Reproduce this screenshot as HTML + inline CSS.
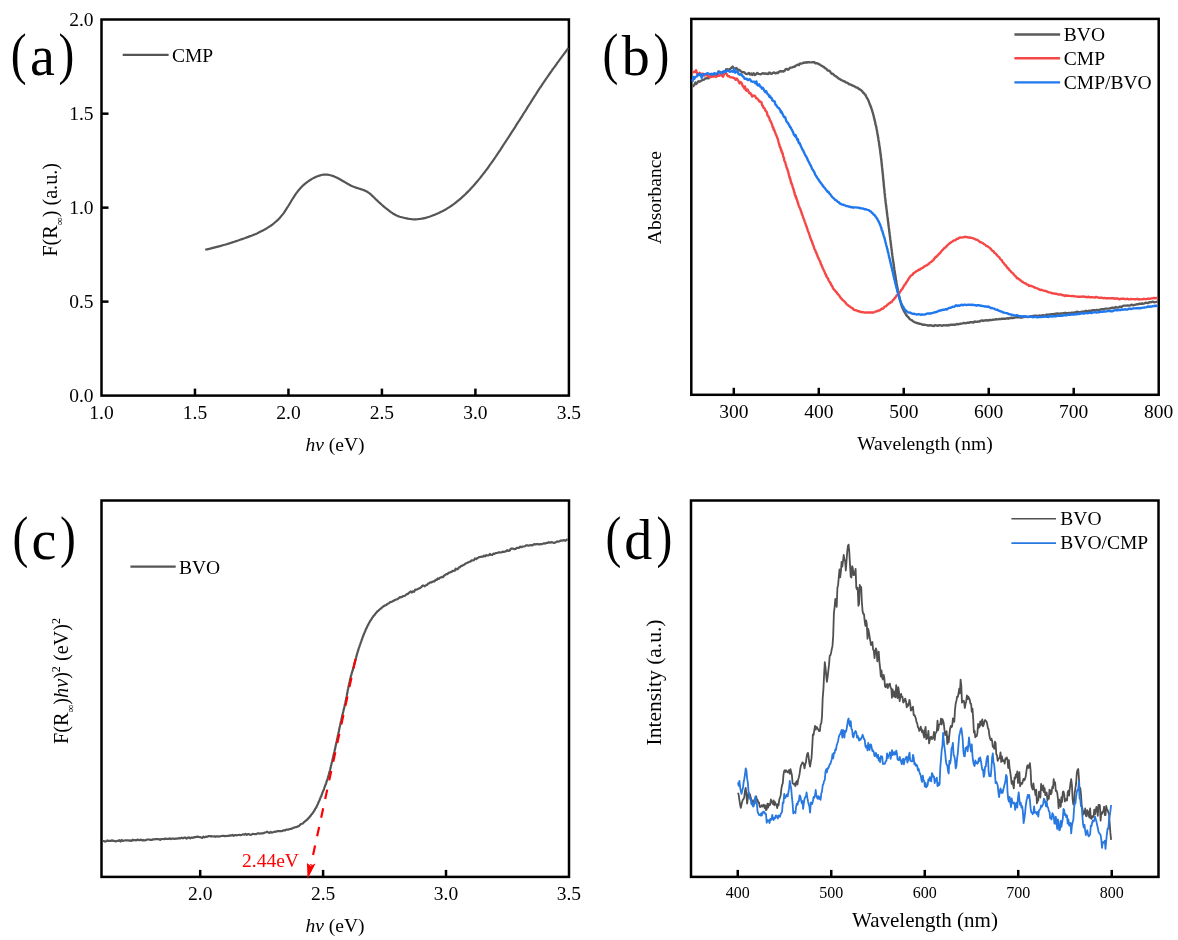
<!DOCTYPE html>
<html><head><meta charset="utf-8"><style>
html,body{margin:0;padding:0;background:#fff;}
svg{display:block;will-change:transform;}
svg text{font-family:"Liberation Serif",serif;}
</style></head><body>
<svg width="1178" height="940" viewBox="0 0 1178 940">
<rect width="1178" height="940" fill="#fff"/>
<rect x="101.5" y="19.5" width="467.40" height="376.10" fill="none" stroke="#000" stroke-width="2.5"/>
<line x1="194.97" y1="395.6" x2="194.97" y2="388.6" stroke="#000" stroke-width="2.5"/><line x1="288.45" y1="395.6" x2="288.45" y2="388.6" stroke="#000" stroke-width="2.5"/><line x1="381.92" y1="395.6" x2="381.92" y2="388.6" stroke="#000" stroke-width="2.5"/><line x1="475.40" y1="395.6" x2="475.40" y2="388.6" stroke="#000" stroke-width="2.5"/>
<line x1="101.5" y1="301.62" x2="108.5" y2="301.62" stroke="#000" stroke-width="2.5"/><line x1="101.5" y1="207.65" x2="108.5" y2="207.65" stroke="#000" stroke-width="2.5"/><line x1="101.5" y1="113.68" x2="108.5" y2="113.68" stroke="#000" stroke-width="2.5"/>
<text x="101.50" y="418.60" font-size="19.5" text-anchor="middle" fill="#000" >1.0</text>
<text x="194.97" y="418.60" font-size="19.5" text-anchor="middle" fill="#000" >1.5</text>
<text x="288.45" y="418.60" font-size="19.5" text-anchor="middle" fill="#000" >2.0</text>
<text x="381.92" y="418.60" font-size="19.5" text-anchor="middle" fill="#000" >2.5</text>
<text x="475.40" y="418.60" font-size="19.5" text-anchor="middle" fill="#000" >3.0</text>
<text x="568.88" y="418.60" font-size="19.5" text-anchor="middle" fill="#000" >3.5</text>
<text x="93.50" y="402.20" font-size="19.5" text-anchor="end" fill="#000" >0.0</text>
<text x="93.50" y="308.23" font-size="19.5" text-anchor="end" fill="#000" >0.5</text>
<text x="93.50" y="214.25" font-size="19.5" text-anchor="end" fill="#000" >1.0</text>
<text x="93.50" y="120.28" font-size="19.5" text-anchor="end" fill="#000" >1.5</text>
<text x="93.50" y="26.30" font-size="19.5" text-anchor="end" fill="#000" >2.0</text>
<path d="M205.2 249.8L207.2 249.3L209.1 248.9L211.1 248.4L213.0 247.9L215.0 247.4L216.9 246.9L218.9 246.4L220.8 245.9L222.8 245.3L224.7 244.8L226.7 244.2L228.6 243.6L230.5 243.0L232.4 242.4L234.3 241.8L236.2 241.1L238.1 240.5L240.1 239.8L242.0 239.1L243.9 238.5L245.8 237.8L247.7 237.1L249.5 236.4L251.4 235.7L253.3 234.9L255.2 234.2L257.0 233.4L258.8 232.5L260.6 231.6L262.4 230.7L264.2 229.8L266.0 228.8L267.7 227.7L269.4 226.6L271.1 225.5L272.7 224.3L274.3 223.0L275.9 221.7L277.3 220.4L278.8 219.0L280.1 217.5L281.4 215.9L282.7 214.4L283.9 212.8L285.0 211.1L286.1 209.4L287.2 207.7L288.3 206.0L289.4 204.2L290.4 202.5L291.4 200.8L292.5 199.0L293.6 197.3L294.7 195.6L295.8 193.9L297.0 192.3L298.2 190.7L299.5 189.2L300.8 187.7L302.2 186.3L303.7 184.9L305.2 183.6L306.8 182.4L308.5 181.2L310.2 180.0L312.0 178.9L313.8 177.9L315.6 177.0L317.5 176.2L319.5 175.6L321.4 175.0L323.4 174.7L325.4 174.6L327.4 174.7L329.4 175.0L331.3 175.5L333.3 176.1L335.2 176.9L337.1 177.7L338.9 178.7L340.7 179.7L342.4 180.7L344.2 181.7L345.9 182.8L347.6 183.8L349.4 184.7L351.2 185.7L353.0 186.5L354.9 187.2L356.8 187.9L358.7 188.5L360.7 189.1L362.6 189.7L364.5 190.4L366.3 191.3L368.0 192.3L369.6 193.4L371.1 194.7L372.6 196.1L374.1 197.5L375.5 199.0L377.0 200.4L378.5 201.8L380.0 203.1L381.5 204.5L383.0 205.8L384.5 207.1L386.1 208.4L387.7 209.6L389.3 210.8L390.9 212.1L392.5 213.2L394.3 214.3L396.0 215.3L397.9 216.1L399.8 216.7L401.7 217.2L403.7 217.7L405.6 218.2L407.6 218.6L409.6 219.0L411.6 219.2L413.6 219.3L415.6 219.3L417.7 219.2L419.7 219.0L421.7 218.7L423.6 218.3L425.6 217.9L427.5 217.3L429.4 216.7L431.4 216.0L433.2 215.3L435.1 214.6L437.0 213.8L438.8 213.0L440.6 212.1L442.4 211.2L444.2 210.3L446.0 209.3L447.7 208.2L449.4 207.1L451.1 206.0L452.7 204.9L454.4 203.7L456.0 202.4L457.5 201.2L459.1 199.9L460.6 198.6L462.1 197.2L463.6 195.9L465.1 194.5L466.5 193.1L468.0 191.6L469.4 190.2L470.7 188.7L472.1 187.2L473.5 185.7L474.8 184.2L476.1 182.7L477.4 181.2L478.7 179.6L480.0 178.1L481.2 176.5L482.5 174.9L483.7 173.3L485.0 171.7L486.2 170.1L487.4 168.5L488.6 166.8L489.7 165.2L490.9 163.6L492.1 161.9L493.2 160.3L494.4 158.6L495.5 157.0L496.6 155.3L497.8 153.6L498.9 151.9L500.0 150.3L501.1 148.6L502.2 146.9L503.3 145.2L504.4 143.5L505.5 141.8L506.6 140.2L507.7 138.5L508.8 136.8L509.9 135.1L511.0 133.4L512.1 131.7L513.2 130.0L514.3 128.3L515.4 126.6L516.4 124.9L517.5 123.2L518.6 121.5L519.7 119.8L520.8 118.1L521.9 116.4L522.9 114.7L524.0 113.0L525.1 111.3L526.2 109.6L527.2 107.9L528.3 106.2L529.4 104.5L530.5 102.8L531.5 101.1L532.6 99.3L533.7 97.6L534.8 95.9L535.9 94.3L536.9 92.6L538.0 90.9L539.1 89.2L540.2 87.5L541.4 85.8L542.5 84.1L543.6 82.5L544.7 80.8L545.9 79.1L547.0 77.5L548.2 75.8L549.3 74.2L550.5 72.5L551.7 70.9L552.8 69.2L554.0 67.6L555.2 66.0L556.4 64.3L557.5 62.7L558.7 61.1L559.9 59.4L561.1 57.8L562.3 56.2L563.5 54.6L564.7 53.0L565.9 51.3L567.1 49.7L568.3 48.1" fill="none" stroke="#555" stroke-width="2.2" stroke-linejoin="round"/>
<line x1="122.7" y1="54.9" x2="168.6" y2="54.9" stroke="#555" stroke-width="2.2"/>
<text x="172.00" y="61.70" font-size="19.5" text-anchor="start" fill="#000" >CMP</text>
<text transform="translate(10.7 72.9) scale(0.83 1)" font-size="57.3">(</text><text x="29.9" y="75.15" font-size="56">a</text><text transform="translate(58.5 72.9) scale(0.83 1)" font-size="57.3">)</text>
<text transform="translate(57.3 209.8) rotate(-90)" font-size="20.2" text-anchor="middle">F(R<tspan font-size="11" dy="6">&#8734;</tspan><tspan dy="-6">) (a.u.)</tspan></text>
<text x="335" y="450.5" font-size="19.5" text-anchor="middle"><tspan font-style="italic">h&#957;</tspan> (eV)</text>
<rect x="691.3" y="18.9" width="467.40" height="375.90" fill="none" stroke="#000" stroke-width="2.5"/>
<line x1="733.79" y1="394.8" x2="733.79" y2="387.8" stroke="#000" stroke-width="2.5"/><line x1="818.77" y1="394.8" x2="818.77" y2="387.8" stroke="#000" stroke-width="2.5"/><line x1="903.75" y1="394.8" x2="903.75" y2="387.8" stroke="#000" stroke-width="2.5"/><line x1="988.73" y1="394.8" x2="988.73" y2="387.8" stroke="#000" stroke-width="2.5"/><line x1="1073.71" y1="394.8" x2="1073.71" y2="387.8" stroke="#000" stroke-width="2.5"/>
<text x="733.79" y="418.40" font-size="19.5" text-anchor="middle" fill="#000" >300</text>
<text x="818.77" y="418.40" font-size="19.5" text-anchor="middle" fill="#000" >400</text>
<text x="903.75" y="418.40" font-size="19.5" text-anchor="middle" fill="#000" >500</text>
<text x="988.73" y="418.40" font-size="19.5" text-anchor="middle" fill="#000" >600</text>
<text x="1073.71" y="418.40" font-size="19.5" text-anchor="middle" fill="#000" >700</text>
<text x="1158.69" y="418.40" font-size="19.5" text-anchor="middle" fill="#000" >800</text>
<path d="M692.5 86.3L693.4 86.0L694.4 84.8L695.4 82.6L696.3 83.9L697.3 82.8L698.4 81.3L699.4 81.7L700.5 81.1L701.6 80.5L702.7 79.9L703.9 79.9L705.0 78.4L706.1 78.5L707.3 77.8L708.4 78.3L709.5 77.3L710.6 76.6L711.8 75.7L712.9 75.7L714.0 75.5L715.1 74.8L716.2 75.8L717.3 75.1L718.5 71.4L719.6 71.7L720.7 72.9L721.8 72.2L722.9 72.2L724.0 71.7L725.1 72.8L726.2 69.2L727.3 69.2L728.3 70.8L729.4 69.1L730.5 68.8L731.6 67.6L732.7 66.6L733.8 68.5L735.0 68.8L736.1 68.0L737.3 69.0L738.4 70.2L739.6 69.9L740.7 71.3L741.9 71.9L743.1 72.3L744.2 72.2L745.4 73.5L746.6 74.1L747.7 73.8L748.9 73.0L750.1 74.5L751.3 73.5L752.4 74.9L753.6 73.2L754.8 75.0L756.0 74.2L757.3 73.0L758.5 73.9L759.7 74.1L760.9 74.2L762.1 73.4L763.3 73.2L764.5 73.9L765.7 73.4L766.9 73.8L768.1 74.0L769.3 72.4L770.5 73.5L771.7 73.9L772.9 72.9L774.1 72.5L775.3 73.3L776.5 72.8L777.7 73.0L778.8 72.0L780.0 71.1L781.2 71.6L782.3 71.1L783.5 71.5L784.6 70.7L785.7 69.1L786.8 68.9L787.9 69.7L789.0 69.1L790.1 67.7L791.2 67.6L792.3 67.4L793.4 66.9L794.5 66.7L795.6 65.8L796.7 65.2L797.8 64.6L799.0 65.0L800.1 63.4L801.3 63.6L802.4 63.3L803.6 62.6L804.8 62.7L805.9 62.3L807.1 62.5L808.3 62.1L809.5 62.3L810.7 62.4L812.0 62.3L813.2 62.1L814.3 62.2L815.5 63.3L816.7 63.2L817.8 63.5L818.9 64.2L819.9 64.6L821.0 65.5L822.0 65.9L823.0 66.6L824.0 67.1L825.0 68.1L826.0 68.5L827.0 69.6L827.9 70.6L828.9 70.6L829.8 71.1L830.8 72.7L831.7 73.9L832.6 73.7L833.6 74.4L834.5 75.6L835.5 76.0L836.5 76.8L837.5 77.5L838.4 78.4L839.4 78.8L840.5 79.6L841.5 80.1L842.5 80.5L843.6 81.2L844.7 81.5L845.7 82.3L846.8 82.6L847.9 83.1L849.0 84.2L850.1 84.4L851.2 84.9L852.3 85.5L853.4 85.8L854.5 86.4L855.6 87.1L856.7 87.6L857.8 87.8L858.8 89.0L859.8 89.3L860.7 89.9L861.7 90.7L862.5 91.6L863.3 93.0L864.1 93.2L864.8 94.5L865.5 94.9L866.2 96.5L866.8 97.7L867.4 98.5L867.9 99.5L868.5 100.8L869.0 102.1L869.4 103.2L869.9 104.6L870.3 105.3L870.7 106.3L871.1 107.5L871.5 108.7L871.9 109.8L872.2 111.0L872.6 112.2L872.9 112.9L873.2 114.6L873.5 115.4L873.8 116.5L874.1 118.1L874.4 119.4L874.7 120.4L875.0 121.5L875.2 122.4L875.5 124.5L875.8 125.2L876.0 125.8L876.3 127.1L876.5 128.5L876.7 129.3L877.0 130.9L877.2 131.9L877.4 133.5L877.6 134.6L877.8 134.9L878.0 136.8L878.2 137.5L878.4 139.4L878.6 140.4L878.8 141.7L879.0 142.4L879.2 144.4L879.3 145.6L879.5 146.0L879.7 147.6L879.9 148.5L880.0 149.8L880.2 150.7L880.3 152.7L880.5 153.2L880.6 154.5L880.8 155.9L880.9 156.8L881.1 158.1L881.2 159.3L881.4 160.6L881.5 161.5L881.6 162.9L881.7 164.1L881.9 165.3L882.0 166.6L882.1 167.7L882.3 169.2L882.4 170.1L882.5 171.3L882.6 172.4L882.7 173.6L882.9 174.6L883.0 176.3L883.1 177.1L883.2 178.4L883.3 179.8L883.4 181.0L883.6 182.0L883.7 182.8L883.8 184.6L883.9 185.8L884.0 186.6L884.1 188.3L884.3 189.1L884.4 190.2L884.5 191.7L884.6 192.9L884.8 194.1L884.9 194.9L885.0 196.9L885.1 197.5L885.3 198.5L885.4 200.2L885.5 201.2L885.7 202.5L885.8 203.6L886.0 204.8L886.1 206.1L886.3 207.1L886.4 208.6L886.6 209.5L886.7 210.6L886.9 212.0L887.0 213.3L887.2 214.3L887.3 215.4L887.5 216.9L887.6 217.5L887.8 218.9L887.9 220.4L888.1 221.2L888.2 222.8L888.4 223.9L888.5 225.4L888.7 226.1L888.8 227.4L889.0 228.8L889.1 229.3L889.3 231.9L889.4 232.1L889.6 233.3L889.7 234.9L889.9 235.9L890.0 236.6L890.2 238.4L890.3 239.7L890.5 240.5L890.6 241.8L890.8 243.2L890.9 244.0L891.1 245.5L891.2 246.7L891.4 247.7L891.5 248.7L891.7 250.1L891.8 251.2L892.0 252.8L892.1 253.8L892.3 255.2L892.5 256.2L892.6 257.4L892.8 258.4L893.0 259.9L893.1 261.4L893.3 262.0L893.5 263.2L893.6 264.5L893.8 265.6L894.0 266.7L894.2 268.1L894.3 269.2L894.5 270.8L894.7 271.6L894.9 272.9L895.1 274.3L895.3 275.1L895.5 276.8L895.7 277.4L895.8 278.6L896.0 279.9L896.2 281.1L896.4 282.0L896.6 283.5L896.8 284.3L897.1 286.2L897.3 287.0L897.5 288.1L897.7 289.2L897.9 290.5L898.2 291.7L898.4 292.7L898.7 293.9L898.9 295.3L899.2 296.4L899.5 297.9L899.7 299.1L900.0 300.0L900.3 301.3L900.7 302.0L901.0 303.7L901.4 304.7L901.7 305.9L902.1 307.3L902.6 307.5L903.0 309.2L903.6 310.0L904.1 311.5L904.7 312.1L905.3 313.3L906.0 314.5L906.7 315.6L907.4 316.4L908.2 317.1L909.1 318.1L909.9 319.3L910.9 319.8L911.8 320.1L912.9 321.3L913.9 321.8L915.0 322.4L916.1 322.6L917.3 323.3L918.4 323.2L919.6 323.9L920.8 323.9L922.0 324.5L923.2 324.8L924.4 324.6L925.6 324.9L926.8 325.1L928.0 325.5L929.2 325.5L930.4 325.1L931.5 325.5L932.7 325.7L933.9 326.0L935.2 325.1L936.4 325.4L937.6 325.9L938.8 325.2L940.0 325.2L941.2 325.6L942.4 325.7L943.6 325.2L944.8 325.4L946.0 325.2L947.2 325.5L948.4 325.0L949.6 325.2L950.8 324.6L952.0 324.7L953.2 324.6L954.4 324.8L955.6 324.5L956.8 324.0L958.0 324.2L959.1 324.1L960.3 323.7L961.5 323.6L962.7 323.4L963.9 322.9L965.1 323.2L966.3 323.1L967.5 322.6L968.7 322.9L969.9 322.2L971.1 322.2L972.3 322.1L973.5 322.5L974.7 321.5L975.8 321.9L977.0 321.8L978.2 321.5L979.4 321.6L980.6 320.9L981.8 320.4L983.0 321.0L984.2 320.4L985.4 320.5L986.6 320.1L987.8 320.5L989.0 320.3L990.2 319.8L991.4 320.1L992.6 319.8L993.8 319.6L995.0 319.5L996.2 319.3L997.3 319.4L998.5 319.2L999.7 318.9L1000.9 319.1L1002.1 318.6L1003.3 318.7L1004.5 318.7L1005.7 318.8L1006.9 318.2L1008.1 318.7L1009.3 318.2L1010.5 318.0L1011.7 317.8L1012.9 318.0L1014.1 317.8L1015.3 317.4L1016.5 317.3L1017.7 317.3L1018.9 317.2L1020.1 317.5L1021.3 317.5L1022.5 317.3L1023.7 317.1L1024.9 316.8L1026.1 316.8L1027.3 316.9L1028.5 317.1L1029.7 316.7L1030.9 316.3L1032.1 316.2L1033.3 316.0L1034.5 315.8L1035.7 315.8L1036.9 315.8L1038.1 316.1L1039.3 315.5L1040.5 315.7L1041.7 315.7L1042.9 315.2L1044.1 315.4L1045.3 315.1L1046.5 314.7L1047.7 314.7L1048.9 314.6L1050.1 314.4L1051.3 314.3L1052.5 314.3L1053.6 314.2L1054.8 313.8L1056.0 313.9L1057.2 313.4L1058.4 313.7L1059.6 313.7L1060.8 313.5L1062.0 313.5L1063.2 313.4L1064.4 313.0L1065.6 313.0L1066.8 313.1L1068.0 313.2L1069.2 312.9L1070.4 313.4L1071.6 312.6L1072.8 312.8L1074.0 312.7L1075.2 312.3L1076.4 312.0L1077.6 311.8L1078.8 312.1L1080.0 312.2L1081.2 311.9L1082.4 311.7L1083.6 311.5L1084.8 311.6L1086.0 310.8L1087.2 311.3L1088.4 311.1L1089.6 310.6L1090.8 311.4L1092.0 310.3L1093.2 310.3L1094.4 310.1L1095.6 310.5L1096.8 309.9L1098.0 310.1L1099.1 309.9L1100.3 309.7L1101.5 309.1L1102.7 309.1L1103.9 309.5L1105.1 308.6L1106.3 308.6L1107.5 308.6L1108.7 308.6L1109.9 308.3L1111.1 308.3L1112.2 307.6L1113.4 308.0L1114.6 307.7L1115.8 307.0L1117.0 307.6L1118.2 307.6L1119.4 306.7L1120.6 306.7L1121.8 306.8L1123.0 305.9L1124.1 305.6L1125.3 305.6L1126.5 305.6L1127.7 305.4L1128.9 305.6L1130.1 305.3L1131.3 304.8L1132.5 305.0L1133.7 305.2L1134.9 304.8L1136.0 304.6L1137.2 304.2L1138.4 304.3L1139.6 303.6L1140.8 303.9L1142.0 303.5L1143.2 303.7L1144.4 303.3L1145.6 302.8L1146.8 302.9L1148.0 303.1L1149.2 302.3L1150.3 302.3L1151.5 302.1L1152.7 301.7L1153.9 302.2L1155.1 302.1L1156.3 301.9L1157.5 301.6" fill="none" stroke="#5a5a5a" stroke-width="2.4" stroke-linejoin="round"/>
<path d="M692.5 72.5L693.7 71.9L694.9 72.0L696.1 70.3L697.3 74.3L698.5 73.8L699.7 72.8L700.9 74.1L702.0 74.0L703.1 73.7L704.3 75.6L705.4 74.9L706.5 75.3L707.7 75.3L708.8 76.7L710.0 76.5L711.1 77.1L712.3 76.1L713.5 76.7L714.7 75.6L715.9 76.9L717.1 76.1L718.3 75.9L719.5 75.7L720.7 74.2L721.9 75.7L723.1 76.8L724.3 73.4L725.5 73.5L726.7 73.9L727.8 76.3L729.0 76.0L730.2 77.3L731.3 77.4L732.4 77.4L733.5 78.0L734.6 78.2L735.7 79.7L736.7 78.6L737.7 79.9L738.6 81.2L739.5 83.4L740.4 81.9L741.2 82.5L742.0 83.9L742.7 86.2L743.5 86.1L744.3 88.4L745.0 86.5L745.9 90.1L746.7 90.8L747.6 89.4L748.5 91.6L749.4 93.4L750.4 93.1L751.3 94.7L752.3 96.6L753.2 95.5L754.2 95.7L755.1 96.1L756.0 98.1L756.9 98.2L757.7 99.1L758.6 100.0L759.3 101.6L760.1 101.3L760.8 102.0L761.5 102.4L762.2 105.6L762.9 105.9L763.5 107.8L764.1 108.0L764.7 108.6L765.3 110.4L765.9 111.1L766.4 111.5L767.0 112.8L767.5 115.4L768.0 115.7L768.5 116.8L769.0 117.5L769.5 118.4L769.9 120.4L770.4 120.9L770.9 121.6L771.4 123.1L771.8 123.8L772.3 125.5L772.7 127.2L773.2 127.2L773.6 129.6L774.1 129.5L774.5 131.1L775.0 131.6L775.4 133.1L775.8 134.4L776.3 135.2L776.7 136.2L777.1 137.4L777.5 138.4L777.9 139.1L778.3 141.0L778.7 142.6L779.1 144.0L779.5 145.0L779.8 147.2L780.2 147.1L780.6 147.7L781.0 150.3L781.3 149.7L781.7 152.0L782.1 152.0L782.5 154.0L782.8 153.7L783.2 156.6L783.5 157.1L783.9 157.8L784.3 160.5L784.6 161.1L785.0 161.8L785.3 162.5L785.7 164.1L786.0 165.1L786.4 166.8L786.7 168.0L787.1 168.3L787.4 169.5L787.8 170.7L788.1 171.3L788.5 173.0L788.8 174.4L789.2 176.0L789.5 177.6L789.9 177.4L790.2 179.4L790.6 180.0L790.9 182.6L791.3 182.5L791.6 184.0L792.0 184.3L792.3 185.5L792.7 187.3L793.1 188.1L793.4 189.6L793.8 189.6L794.1 192.1L794.5 192.3L794.9 195.1L795.3 195.0L795.6 197.0L796.0 196.6L796.4 198.8L796.8 199.2L797.2 200.6L797.6 202.0L798.0 202.9L798.4 204.4L798.8 205.8L799.2 206.9L799.6 207.6L800.1 208.4L800.5 209.7L800.9 211.0L801.3 211.6L801.7 213.5L802.1 214.4L802.6 215.5L803.0 216.9L803.4 218.0L803.8 219.0L804.2 219.8L804.6 221.3L805.0 222.4L805.4 223.3L805.8 224.9L806.2 225.9L806.6 226.4L807.0 228.1L807.4 228.9L807.8 230.6L808.2 231.7L808.6 232.3L809.0 233.5L809.4 234.9L809.8 235.9L810.2 237.5L810.6 238.4L811.0 239.3L811.4 240.7L811.9 241.1L812.3 242.9L812.7 244.1L813.1 245.0L813.6 246.0L814.0 247.4L814.4 248.9L814.9 249.6L815.3 250.3L815.8 252.1L816.2 252.4L816.7 254.1L817.2 254.9L817.6 256.4L818.1 257.1L818.6 258.7L819.1 259.6L819.5 260.2L820.0 261.2L820.5 262.7L821.0 264.3L821.5 265.1L822.0 266.2L822.4 267.2L822.9 268.5L823.4 269.5L823.9 270.6L824.4 271.4L824.9 273.0L825.5 274.2L826.0 274.6L826.5 276.6L827.0 277.3L827.6 278.0L828.1 278.8L828.7 280.5L829.3 281.5L829.9 282.2L830.5 283.0L831.1 284.8L831.7 285.4L832.3 286.4L833.0 288.2L833.6 289.1L834.3 289.8L835.0 290.4L835.7 291.6L836.4 291.9L837.2 293.4L837.9 294.2L838.7 295.0L839.4 295.8L840.2 297.3L841.0 298.1L841.8 299.0L842.6 300.1L843.5 300.5L844.3 301.3L845.2 302.1L846.0 303.3L846.9 304.4L847.8 305.0L848.8 306.0L849.7 306.3L850.7 307.2L851.6 307.8L852.7 308.3L853.7 309.7L854.7 310.0L855.8 310.2L856.9 310.6L858.1 311.2L859.2 311.3L860.4 312.1L861.6 311.9L862.8 312.3L864.0 312.3L865.2 312.6L866.4 312.5L867.6 312.4L868.8 312.5L870.0 312.5L871.3 312.5L872.5 312.4L873.6 312.5L874.8 312.0L876.0 311.4L877.1 311.3L878.3 310.5L879.4 310.6L880.5 309.8L881.5 308.8L882.6 308.7L883.6 308.1L884.6 306.6L885.6 306.4L886.6 305.7L887.5 304.6L888.5 304.0L889.4 303.2L890.3 302.8L891.2 301.9L892.0 301.7L892.9 300.0L893.7 299.6L894.5 298.4L895.3 297.6L896.1 296.3L896.9 295.2L897.7 294.6L898.4 294.0L899.2 293.3L899.9 292.1L900.6 291.1L901.3 289.7L902.0 289.3L902.7 288.3L903.4 286.8L904.0 285.9L904.7 284.6L905.4 284.2L906.0 282.9L906.7 281.8L907.4 280.9L908.0 279.9L908.7 278.7L909.5 277.5L910.2 276.6L911.0 275.5L911.8 275.2L912.6 274.8L913.5 273.1L914.4 272.8L915.4 272.1L916.4 271.1L917.4 270.8L918.4 269.8L919.5 269.8L920.5 268.8L921.6 268.3L922.7 267.9L923.7 267.0L924.8 266.1L925.8 265.7L926.8 265.4L927.8 264.5L928.8 263.9L929.7 262.8L930.6 262.3L931.5 261.7L932.4 260.7L933.3 260.3L934.1 258.9L935.0 257.9L935.8 256.8L936.6 256.7L937.5 255.5L938.3 254.8L939.1 253.8L939.9 253.2L940.7 252.2L941.6 250.9L942.4 250.2L943.2 249.5L944.1 248.1L944.9 247.9L945.8 247.0L946.7 246.2L947.6 245.1L948.5 244.4L949.5 243.3L950.4 242.9L951.4 242.0L952.5 241.5L953.5 240.7L954.6 240.3L955.7 240.0L956.8 238.8L957.9 238.9L959.1 237.8L960.2 237.4L961.4 237.6L962.6 237.4L963.8 237.3L965.0 236.7L966.2 237.1L967.4 237.2L968.5 237.6L969.7 237.5L970.9 237.9L972.1 237.9L973.2 238.4L974.4 238.8L975.5 239.5L976.7 239.6L977.8 240.2L978.9 241.1L980.0 242.0L981.0 242.2L982.1 242.8L983.1 243.3L984.2 244.3L985.2 244.8L986.1 245.8L987.1 246.2L988.1 246.6L989.0 247.4L989.9 248.1L990.8 248.8L991.7 250.2L992.6 250.9L993.5 251.2L994.3 252.8L995.2 253.3L996.0 253.9L996.8 255.1L997.6 255.9L998.4 256.6L999.2 257.2L1000.0 258.6L1000.7 259.6L1001.5 259.8L1002.3 261.5L1003.1 262.5L1003.8 263.2L1004.6 264.2L1005.4 265.1L1006.1 265.9L1006.9 266.9L1007.7 268.3L1008.5 268.5L1009.3 269.9L1010.1 270.7L1010.9 271.4L1011.7 272.4L1012.6 273.0L1013.4 274.0L1014.3 275.1L1015.1 276.0L1016.0 276.5L1016.9 278.3L1017.8 278.2L1018.8 279.1L1019.7 279.7L1020.7 280.4L1021.7 281.5L1022.7 281.7L1023.7 282.8L1024.7 283.3L1025.8 283.4L1026.8 284.5L1027.9 284.6L1029.0 286.0L1030.1 285.7L1031.2 286.0L1032.3 286.3L1033.5 286.9L1034.6 287.5L1035.7 287.9L1036.9 288.2L1038.0 288.8L1039.1 289.3L1040.3 290.1L1041.4 289.7L1042.6 290.3L1043.7 290.6L1044.9 290.8L1046.1 291.2L1047.2 291.6L1048.4 292.3L1049.5 292.4L1050.7 292.6L1051.9 293.2L1053.1 293.4L1054.2 293.5L1055.4 293.9L1056.6 293.8L1057.8 294.4L1059.0 294.5L1060.1 294.5L1061.3 294.5L1062.5 295.4L1063.7 295.2L1064.9 296.1L1066.1 295.3L1067.3 295.8L1068.5 295.6L1069.7 295.9L1070.9 296.1L1072.1 295.8L1073.3 296.1L1074.5 296.3L1075.7 296.4L1076.9 296.6L1078.1 296.8L1079.3 296.8L1080.5 296.7L1081.7 296.6L1082.9 296.5L1084.1 296.7L1085.3 296.8L1086.5 297.2L1087.7 297.0L1088.9 296.8L1090.1 297.4L1091.3 297.1L1092.6 297.2L1093.8 297.4L1095.0 297.6L1096.2 296.9L1097.4 297.3L1098.6 297.7L1099.8 297.7L1101.0 297.6L1102.2 297.7L1103.4 298.3L1104.6 297.9L1105.8 298.3L1107.0 298.3L1108.2 298.1L1109.4 298.4L1110.6 298.2L1111.8 298.2L1113.0 298.2L1114.2 298.7L1115.4 298.5L1116.6 298.5L1117.8 298.4L1119.0 299.2L1120.2 299.0L1121.4 298.8L1122.6 298.8L1123.8 298.6L1125.0 299.1L1126.2 299.1L1127.4 298.7L1128.6 299.4L1129.8 299.4L1131.0 298.9L1132.2 299.1L1133.4 299.1L1134.6 299.2L1135.8 299.2L1137.1 298.8L1138.3 299.5L1139.5 299.2L1140.7 299.4L1141.9 299.4L1143.1 299.0L1144.3 299.0L1145.5 299.1L1146.7 299.0L1147.9 298.7L1149.1 298.6L1150.3 298.7L1151.5 298.4L1152.7 298.4L1153.9 297.9L1155.1 298.4L1156.3 298.0L1157.5 298.1" fill="none" stroke="#f64747" stroke-width="2.4" stroke-linejoin="round"/>
<path d="M692.5 81.8L693.4 76.9L694.4 78.8L695.3 77.1L696.3 76.5L697.3 76.1L698.4 73.9L699.4 75.1L700.6 74.2L701.7 77.7L702.9 74.7L704.1 74.1L705.3 74.1L706.6 73.6L707.8 73.2L709.0 73.8L710.3 74.4L711.5 73.7L712.7 74.6L713.9 73.4L715.0 73.3L716.2 74.5L717.4 73.3L718.5 72.2L719.7 72.2L720.9 72.6L722.1 73.6L723.3 71.4L724.5 71.2L725.7 72.1L726.9 70.3L728.2 70.7L729.4 71.7L730.6 71.5L731.8 71.1L733.0 71.8L734.1 68.9L735.2 72.7L736.3 71.4L737.4 71.3L738.4 73.7L739.5 74.7L740.5 74.3L741.5 74.5L742.5 76.1L743.5 76.8L744.6 78.7L745.6 78.7L746.7 78.8L747.8 80.1L748.9 79.5L750.0 79.3L751.1 81.2L752.1 81.7L753.2 81.6L754.2 81.6L755.3 83.2L756.3 81.4L757.3 84.9L758.2 85.5L759.2 84.3L760.1 86.6L761.0 86.8L761.9 88.6L762.8 87.8L763.7 89.3L764.5 91.1L765.4 92.2L766.2 91.1L767.0 93.0L767.8 94.4L768.6 94.7L769.4 96.9L770.2 96.2L771.0 98.0L771.7 98.1L772.5 100.5L773.2 100.6L774.0 101.4L774.7 101.5L775.4 104.5L776.1 105.0L776.8 106.0L777.5 107.2L778.2 107.7L778.8 108.1L779.5 109.0L780.2 110.0L780.8 112.3L781.5 111.6L782.1 113.2L782.8 114.4L783.4 115.7L784.0 117.0L784.7 116.9L785.3 117.6L785.9 119.7L786.5 121.4L787.2 122.2L787.8 122.9L788.4 123.6L789.0 125.0L789.6 125.8L790.2 127.4L790.8 127.5L791.4 129.1L792.0 130.0L792.6 131.4L793.2 132.3L793.8 134.7L794.4 135.2L795.0 136.2L795.6 135.1L796.2 137.2L796.7 138.1L797.3 139.8L797.9 139.2L798.5 142.3L799.0 143.3L799.6 143.0L800.2 144.6L800.7 145.7L801.3 147.0L801.9 148.2L802.4 149.6L803.0 150.1L803.5 151.4L804.0 152.4L804.6 153.8L805.1 154.7L805.7 155.9L806.2 156.4L806.7 157.6L807.3 158.6L807.8 160.2L808.3 161.1L808.9 161.9L809.4 163.0L809.9 164.3L810.5 165.1L811.0 166.1L811.6 167.5L812.1 169.1L812.7 169.5L813.2 170.5L813.8 171.4L814.4 172.4L814.9 173.9L815.5 175.1L816.1 175.9L816.7 177.0L817.4 178.0L818.0 179.0L818.6 179.6L819.3 180.9L820.0 182.0L820.7 182.8L821.4 183.8L822.2 184.7L822.9 185.7L823.7 187.0L824.5 187.6L825.2 188.6L826.0 189.7L826.8 190.6L827.6 191.8L828.4 191.8L829.2 193.4L830.0 194.0L830.8 195.1L831.6 196.2L832.4 197.1L833.3 198.0L834.1 198.6L835.0 199.8L835.9 200.1L836.8 200.9L837.8 201.8L838.8 202.2L839.8 203.5L840.8 203.8L841.9 204.6L843.0 204.6L844.1 205.0L845.3 205.5L846.4 206.1L847.6 206.1L848.8 206.6L850.0 206.8L851.2 207.4L852.4 207.1L853.6 207.7L854.8 207.4L856.0 207.4L857.3 207.6L858.5 207.6L859.7 208.0L860.9 208.4L862.1 208.4L863.2 208.7L864.4 209.2L865.5 209.2L866.7 209.6L867.8 209.9L868.8 210.1L869.9 211.3L870.9 211.4L871.8 212.7L872.8 213.3L873.6 214.5L874.5 215.1L875.2 215.8L876.0 217.1L876.6 217.9L877.3 219.0L877.8 220.1L878.4 221.1L878.9 222.2L879.4 223.1L879.9 224.4L880.3 225.1L880.8 226.7L881.2 227.6L881.6 229.3L882.0 230.5L882.4 230.9L882.7 232.5L883.1 233.6L883.4 234.5L883.8 236.1L884.1 237.0L884.5 237.8L884.8 239.4L885.1 240.5L885.4 241.8L885.7 242.6L886.0 244.2L886.3 245.4L886.6 246.1L886.9 247.4L887.2 248.7L887.5 249.7L887.8 251.5L888.1 252.3L888.4 253.1L888.6 254.4L888.9 255.7L889.2 257.5L889.5 258.1L889.8 259.3L890.0 260.6L890.3 261.6L890.6 263.4L890.9 263.9L891.1 265.3L891.4 266.4L891.7 267.7L892.0 268.4L892.2 270.3L892.5 271.0L892.8 272.2L893.0 273.1L893.3 274.4L893.6 275.9L893.9 277.1L894.1 278.2L894.4 279.5L894.7 280.5L895.0 281.5L895.2 282.9L895.5 284.0L895.8 285.0L896.1 286.3L896.4 287.6L896.7 288.5L897.0 289.5L897.3 290.9L897.6 292.4L898.0 293.0L898.3 294.2L898.6 295.4L899.0 296.9L899.4 297.3L899.8 299.0L900.1 300.4L900.6 301.1L901.0 302.9L901.5 303.8L902.0 304.7L902.5 306.0L903.1 306.6L903.8 307.9L904.5 309.4L905.2 309.6L906.1 311.1L907.0 311.4L908.0 312.3L909.0 312.6L910.1 312.5L911.3 313.3L912.5 313.9L913.7 313.8L914.9 314.0L916.2 314.5L917.4 314.4L918.6 314.2L919.8 314.4L921.1 314.8L922.3 314.4L923.5 314.6L924.6 314.6L925.8 314.1L927.0 313.6L928.2 313.4L929.4 313.5L930.6 313.5L931.7 313.1L932.9 312.9L934.1 312.4L935.3 312.3L936.4 311.8L937.6 311.5L938.8 310.9L939.9 310.5L941.1 310.5L942.2 309.9L943.4 309.6L944.5 309.7L945.7 309.1L946.8 309.5L948.0 308.6L949.1 307.9L950.3 307.8L951.5 307.4L952.6 306.8L953.8 306.9L954.9 306.2L956.1 305.3L957.3 306.0L958.4 305.4L959.6 305.8L960.8 305.0L962.0 304.8L963.2 305.3L964.4 304.6L965.6 304.8L966.8 305.1L968.0 304.7L969.2 304.7L970.4 304.8L971.7 305.0L972.9 304.6L974.1 305.1L975.3 305.2L976.5 305.7L977.7 305.2L978.9 305.2L980.1 305.7L981.3 305.6L982.5 306.0L983.7 306.1L984.9 306.6L986.0 306.4L987.2 306.8L988.4 306.5L989.5 307.2L990.7 308.2L991.8 307.9L993.0 308.3L994.1 308.6L995.3 309.4L996.4 309.7L997.5 309.8L998.7 310.7L999.8 311.0L1000.9 311.5L1002.1 311.6L1003.2 312.6L1004.3 312.6L1005.5 312.9L1006.6 313.1L1007.8 313.5L1008.9 314.1L1010.1 314.2L1011.3 314.8L1012.5 314.9L1013.6 315.4L1014.8 315.4L1016.0 315.4L1017.2 315.2L1018.4 315.9L1019.6 316.2L1020.8 316.2L1022.0 316.4L1023.2 316.3L1024.4 316.4L1025.6 316.3L1026.8 317.0L1028.0 316.8L1029.2 316.7L1030.4 316.5L1031.6 316.8L1032.8 317.2L1034.0 317.0L1035.2 316.7L1036.5 317.2L1037.7 317.2L1038.9 317.1L1040.1 317.0L1041.3 317.1L1042.5 316.9L1043.7 316.9L1044.9 316.4L1046.1 316.9L1047.3 316.6L1048.5 317.0L1049.7 315.9L1050.9 316.5L1052.1 316.5L1053.3 316.1L1054.5 316.2L1055.7 316.2L1056.9 316.1L1058.1 315.7L1059.3 315.7L1060.5 315.9L1061.7 315.9L1062.9 315.5L1064.1 315.4L1065.3 315.3L1066.5 315.4L1067.7 314.8L1068.9 314.6L1070.1 314.9L1071.3 314.4L1072.5 314.5L1073.7 314.5L1074.9 314.5L1076.1 314.0L1077.3 314.3L1078.5 313.6L1079.7 314.0L1080.9 313.4L1082.1 313.4L1083.3 313.7L1084.5 313.3L1085.7 313.1L1086.9 313.1L1088.1 313.2L1089.3 312.9L1090.5 312.8L1091.7 313.0L1092.9 312.4L1094.1 312.4L1095.3 312.2L1096.5 312.5L1097.7 312.4L1098.9 312.3L1100.1 311.9L1101.3 311.7L1102.5 311.9L1103.7 311.4L1104.9 311.6L1106.1 311.5L1107.3 311.0L1108.5 311.0L1109.7 310.9L1110.9 311.3L1112.1 311.4L1113.3 310.6L1114.5 310.5L1115.7 309.8L1116.9 310.3L1118.1 310.2L1119.3 309.8L1120.5 310.1L1121.7 309.4L1122.8 309.7L1124.0 309.6L1125.2 309.2L1126.4 309.6L1127.6 309.5L1128.8 308.8L1130.0 308.6L1131.2 309.0L1132.4 308.7L1133.6 308.3L1134.8 308.4L1136.0 308.3L1137.2 308.1L1138.4 308.2L1139.6 308.0L1140.8 308.2L1142.0 307.9L1143.2 307.6L1144.4 307.5L1145.6 307.4L1146.8 307.1L1148.0 306.4L1149.2 306.8L1150.3 306.4L1151.5 306.7L1152.7 306.1L1153.9 306.0L1155.1 305.8L1156.3 306.0L1157.5 305.4" fill="none" stroke="#1f78ee" stroke-width="2.4" stroke-linejoin="round"/>
<line x1="1014.4" y1="34.5" x2="1060.1" y2="34.5" stroke="#5a5a5a" stroke-width="2.4"/>
<text x="1063.80" y="40.80" font-size="19.5" text-anchor="start" fill="#000" >BVO</text>
<line x1="1014.4" y1="58.2" x2="1060.1" y2="58.2" stroke="#f64747" stroke-width="2.4"/>
<text x="1063.80" y="64.50" font-size="19.5" text-anchor="start" fill="#000" >CMP</text>
<line x1="1014.4" y1="82.4" x2="1060.1" y2="82.4" stroke="#1f78ee" stroke-width="2.4"/>
<text x="1063.80" y="88.70" font-size="19.5" text-anchor="start" fill="#000" >CMP/BVO</text>
<text transform="translate(602.4 72.8) scale(0.83 1)" font-size="57.3">(</text><text x="621.7" y="75.25" font-size="56">b</text><text transform="translate(653.4 72.8) scale(0.83 1)" font-size="57.3">)</text>
<text transform="translate(661 197.6) rotate(-90)" font-size="19.5" text-anchor="middle">Absorbance</text>
<text x="925.00" y="450.30" font-size="19.5" text-anchor="middle" fill="#000" >Wavelength (nm)</text>
<rect x="101.5" y="500.5" width="467.50" height="376.40" fill="none" stroke="#000" stroke-width="2.5"/>
<line x1="200.20" y1="876.9" x2="200.20" y2="869.9" stroke="#000" stroke-width="2.5"/><line x1="323.10" y1="876.9" x2="323.10" y2="869.9" stroke="#000" stroke-width="2.5"/><line x1="446.00" y1="876.9" x2="446.00" y2="869.9" stroke="#000" stroke-width="2.5"/>
<text x="200.20" y="900.20" font-size="19.5" text-anchor="middle" fill="#000" >2.0</text>
<text x="323.10" y="900.20" font-size="19.5" text-anchor="middle" fill="#000" >2.5</text>
<text x="446.00" y="900.20" font-size="19.5" text-anchor="middle" fill="#000" >3.0</text>
<text x="568.90" y="900.20" font-size="19.5" text-anchor="middle" fill="#000" >3.5</text>
<path d="M102.5 840.9L103.7 841.0L104.9 841.6L106.1 841.3L107.3 840.4L108.5 841.0L109.7 840.7L110.9 841.0L112.1 840.3L113.3 841.0L114.5 840.9L115.7 841.4L116.9 840.9L118.1 840.9L119.3 840.2L120.5 841.5L121.7 840.0L122.9 841.0L124.2 840.5L125.4 840.3L126.6 840.3L127.8 840.3L129.0 840.6L130.2 840.4L131.4 840.9L132.6 839.7L133.8 840.3L135.0 840.0L136.2 840.5L137.4 839.5L138.6 840.1L139.8 840.2L141.0 839.6L142.2 840.4L143.4 840.1L144.6 840.3L145.8 840.2L147.0 839.5L148.2 839.5L149.4 839.7L150.6 839.9L151.8 839.9L153.0 839.3L154.2 839.3L155.4 839.2L156.6 839.2L157.8 839.2L159.0 839.2L160.2 839.9L161.4 839.0L162.6 839.0L163.8 839.2L165.0 838.6L166.2 838.8L167.4 838.8L168.6 839.0L169.8 838.3L171.0 839.1L172.2 838.5L173.4 838.6L174.6 838.8L175.8 838.6L177.0 838.7L178.2 838.3L179.4 838.2L180.6 838.3L181.8 837.7L183.0 838.4L184.2 837.7L185.4 837.5L186.6 838.6L187.8 837.7L189.0 837.3L190.3 838.3L191.5 837.5L192.7 837.9L193.9 837.2L195.1 837.3L196.3 836.8L197.5 836.6L198.7 836.9L199.9 837.2L201.1 837.4L202.3 837.9L203.5 836.6L204.7 837.3L205.9 836.7L207.1 836.8L208.3 836.2L209.5 836.2L210.7 836.4L211.9 836.2L213.1 836.5L214.3 836.2L215.5 836.8L216.7 836.4L217.9 836.3L219.1 836.6L220.3 836.3L221.5 836.0L222.7 835.9L223.9 835.9L225.1 836.2L226.3 836.0L227.5 835.8L228.7 835.9L229.9 835.3L231.1 835.6L232.3 834.9L233.5 835.8L234.7 835.2L235.9 835.2L237.1 835.3L238.3 835.0L239.5 834.8L240.7 835.2L241.9 834.8L243.1 834.3L244.3 834.7L245.5 833.8L246.7 834.9L247.9 834.2L249.1 834.2L250.3 834.9L251.5 834.7L252.7 833.9L253.9 834.0L255.1 834.1L256.3 834.2L257.5 833.4L258.7 833.4L259.9 833.7L261.1 833.3L262.3 833.3L263.5 833.2L264.7 832.5L265.9 832.4L267.1 831.7L268.3 832.4L269.5 832.9L270.7 831.9L271.8 832.6L273.0 832.3L274.2 831.8L275.4 831.7L276.6 831.6L277.8 831.1L279.0 831.1L280.2 831.0L281.4 831.1L282.6 830.9L283.8 830.2L285.0 830.5L286.2 829.7L287.4 829.7L288.5 829.6L289.7 829.1L290.9 828.8L292.0 828.6L293.2 827.9L294.3 827.5L295.4 827.2L296.5 827.1L297.6 826.3L298.7 826.4L299.7 825.2L300.8 824.1L301.8 823.8L302.8 823.4L303.7 822.4L304.7 821.6L305.6 820.8L306.5 820.3L307.4 819.4L308.2 818.5L309.0 817.6L309.8 816.8L310.6 815.8L311.4 814.5L312.1 813.9L312.8 812.8L313.5 811.8L314.2 810.9L314.8 809.8L315.4 808.3L316.0 807.9L316.6 806.8L317.1 805.5L317.6 804.4L318.1 803.4L318.6 802.1L319.1 801.2L319.6 800.0L320.0 798.9L320.5 797.7L320.9 796.6L321.4 795.8L321.8 794.7L322.2 793.4L322.7 792.2L323.1 791.0L323.6 790.1L324.0 789.1L324.4 787.5L324.8 786.8L325.3 785.2L325.7 784.3L326.1 783.3L326.5 781.9L326.9 780.7L327.2 779.8L327.6 778.8L327.9 777.4L328.3 776.5L328.6 775.1L328.9 774.3L329.2 772.9L329.5 771.7L329.9 770.6L330.2 769.4L330.4 768.5L330.7 767.4L331.0 765.9L331.3 764.7L331.6 763.3L331.9 762.2L332.2 761.2L332.4 760.0L332.7 758.8L333.0 757.7L333.3 756.6L333.5 755.1L333.8 754.0L334.1 753.2L334.4 751.9L334.6 750.6L334.9 749.7L335.2 748.2L335.4 747.1L335.7 745.7L335.9 744.9L336.2 743.6L336.4 742.6L336.7 741.4L337.0 740.1L337.2 738.9L337.5 737.9L337.7 736.5L337.9 735.3L338.2 734.2L338.4 733.1L338.7 732.0L338.9 730.9L339.2 729.5L339.4 728.5L339.7 727.0L340.0 726.0L340.2 724.8L340.5 723.9L340.7 722.5L341.0 721.2L341.3 720.2L341.5 719.0L341.8 717.7L342.1 716.5L342.4 715.3L342.6 714.6L342.9 713.1L343.2 712.0L343.5 710.5L343.8 709.4L344.0 708.4L344.3 707.2L344.6 706.2L344.8 704.7L345.1 703.8L345.4 702.7L345.6 701.2L345.9 700.3L346.1 698.8L346.3 697.8L346.6 696.7L346.8 695.7L347.0 694.1L347.3 693.1L347.5 692.0L347.7 690.5L347.9 689.5L348.2 688.2L348.4 687.1L348.6 686.1L348.9 684.9L349.1 684.0L349.4 682.7L349.7 681.5L349.9 680.1L350.2 678.9L350.5 677.8L350.8 676.3L351.1 675.7L351.5 674.2L351.8 673.0L352.1 671.9L352.5 671.0L352.8 669.9L353.1 668.5L353.5 667.4L353.8 666.2L354.1 664.9L354.4 663.9L354.8 662.7L355.1 661.3L355.4 660.6L355.7 659.0L356.0 658.1L356.3 656.7L356.6 655.6L356.9 654.5L357.2 653.5L357.6 652.1L357.9 651.1L358.3 650.2L358.6 648.7L359.0 647.7L359.4 646.6L359.8 645.3L360.2 644.3L360.6 643.0L361.0 642.1L361.4 640.9L361.8 639.6L362.2 638.8L362.6 637.4L363.1 636.3L363.5 635.1L363.9 634.0L364.4 633.0L364.8 631.9L365.3 630.9L365.8 629.4L366.3 628.5L366.8 627.6L367.3 626.4L367.8 625.3L368.4 624.4L368.9 623.2L369.5 622.2L370.1 621.0L370.8 620.3L371.4 619.2L372.1 617.9L372.8 617.1L373.5 615.9L374.3 615.3L375.0 614.3L375.8 613.3L376.7 612.3L377.5 611.3L378.4 610.8L379.3 609.8L380.2 609.0L381.1 608.4L382.0 607.5L383.0 606.7L384.0 606.0L385.0 605.3L386.0 605.2L387.0 604.2L388.1 603.6L389.1 603.2L390.2 602.0L391.3 601.9L392.4 601.4L393.5 600.7L394.5 600.4L395.6 599.6L396.7 599.4L397.8 599.0L398.9 598.0L400.0 597.2L401.1 597.3L402.2 596.8L403.3 596.0L404.4 596.0L405.5 595.4L406.6 594.1L407.6 594.1L408.7 593.1L409.8 592.2L410.9 591.5L411.9 592.5L413.0 591.4L414.1 591.8L415.2 589.7L416.2 589.6L417.3 589.4L418.4 588.6L419.4 588.4L420.5 587.7L421.6 586.8L422.7 585.5L423.7 585.6L424.8 586.3L425.9 585.3L427.0 585.0L428.1 583.6L429.1 583.3L430.2 582.4L431.3 582.5L432.4 581.8L433.5 581.4L434.5 581.5L435.6 579.8L436.7 580.0L437.8 578.5L438.8 579.0L439.9 577.8L441.0 577.4L442.0 576.9L443.1 577.1L444.1 575.7L445.2 574.9L446.3 574.1L447.3 574.1L448.4 573.0L449.4 572.6L450.5 572.2L451.5 572.0L452.6 570.8L453.6 570.8L454.7 570.7L455.7 568.6L456.8 569.3L457.8 569.1L458.9 567.3L459.9 567.3L461.0 565.8L462.0 566.0L463.1 565.1L464.2 564.8L465.2 563.7L466.3 563.2L467.4 562.8L468.5 562.2L469.6 561.7L470.6 561.4L471.7 560.4L472.8 560.4L473.9 560.2L475.0 558.4L476.2 559.1L477.3 558.2L478.4 557.6L479.5 557.1L480.6 556.9L481.8 556.6L482.9 556.7L484.1 555.6L485.2 556.3L486.4 555.1L487.5 555.5L488.7 555.4L489.9 554.0L491.0 554.8L492.2 555.0L493.4 553.6L494.5 553.8L495.7 553.2L496.9 553.0L498.1 552.6L499.2 552.2L500.4 552.5L501.6 552.3L502.8 551.6L503.9 552.0L505.1 551.5L506.3 551.1L507.4 550.1L508.6 551.0L509.8 550.4L510.9 548.6L512.1 548.7L513.3 548.7L514.4 549.1L515.6 548.9L516.8 547.9L517.9 547.9L519.1 547.8L520.3 546.6L521.4 547.2L522.6 546.5L523.8 546.5L525.0 546.2L526.1 545.4L527.3 545.3L528.5 545.6L529.7 545.4L530.9 545.0L532.1 545.5L533.3 544.7L534.5 544.1L535.6 544.3L536.8 544.2L538.0 544.1L539.2 544.5L540.4 544.1L541.6 544.2L542.8 543.8L544.0 543.3L545.2 543.7L546.4 542.9L547.6 543.0L548.8 542.2L550.0 542.6L551.2 542.2L552.3 542.3L553.5 542.8L554.7 542.9L555.9 542.1L557.1 541.4L558.3 541.7L559.5 541.2L560.7 540.6L561.9 540.7L563.0 540.4L564.2 540.1L565.4 540.8L566.6 539.7L567.8 539.6" fill="none" stroke="#555" stroke-width="2.2" stroke-linejoin="round"/>
<line x1="130.4" y1="566.6" x2="175.7" y2="566.6" stroke="#555" stroke-width="2.2"/>
<text x="179.00" y="573.70" font-size="19.5" text-anchor="start" fill="#000" >BVO</text>
<text transform="translate(12.4 555.8) scale(0.83 1)" font-size="57.3">(</text><text x="31.5" y="558.65" font-size="56">c</text><text transform="translate(60.0 555.8) scale(0.83 1)" font-size="57.3">)</text>
<line x1="355.5" y1="659.1" x2="310.9" y2="865" stroke="#ff0000" stroke-width="2.2" stroke-dasharray="9.6 9.48"/>
<path d="M307.6 878.8 L306.9 862.9 L310.6 865.8 L315.6 863.6 Z" fill="#ff0000"/>
<text x="242.00" y="866.60" font-size="19.5" text-anchor="start" fill="#ff0000" >2.44eV</text>
<text transform="translate(67.5 681) rotate(-90)" font-size="20.2" text-anchor="middle">F(R<tspan font-size="11" dy="6">&#8734;</tspan><tspan dy="-6">)</tspan><tspan font-style="italic">h&#957;</tspan>)<tspan font-size="12" dy="-8">2</tspan><tspan dy="8"> (eV)</tspan><tspan font-size="12" dy="-8">2</tspan></text>
<text x="335" y="931.7" font-size="19.5" text-anchor="middle"><tspan font-style="italic">h&#957;</tspan> (eV)</text>
<rect x="691.0" y="500.5" width="467.50" height="376.40" fill="none" stroke="#000" stroke-width="2.5"/>
<line x1="737.75" y1="876.9" x2="737.75" y2="869.9" stroke="#000" stroke-width="2.5"/><line x1="831.25" y1="876.9" x2="831.25" y2="869.9" stroke="#000" stroke-width="2.5"/><line x1="924.75" y1="876.9" x2="924.75" y2="869.9" stroke="#000" stroke-width="2.5"/><line x1="1018.25" y1="876.9" x2="1018.25" y2="869.9" stroke="#000" stroke-width="2.5"/><line x1="1111.75" y1="876.9" x2="1111.75" y2="869.9" stroke="#000" stroke-width="2.5"/>
<text x="737.75" y="898.40" font-size="16" text-anchor="middle" fill="#000" >400</text>
<text x="831.25" y="898.40" font-size="16" text-anchor="middle" fill="#000" >500</text>
<text x="924.75" y="898.40" font-size="16" text-anchor="middle" fill="#000" >600</text>
<text x="1018.25" y="898.40" font-size="16" text-anchor="middle" fill="#000" >700</text>
<text x="1111.75" y="898.40" font-size="16" text-anchor="middle" fill="#000" >800</text>
<path d="M738.0 792.7L738.7 794.8L739.4 800.1L740.1 804.6L740.8 807.9L741.5 804.5L742.2 801.8L742.9 799.6L743.6 799.0L744.3 797.0L745.0 790.6L745.7 787.8L746.4 793.9L747.1 803.5L747.8 798.6L748.5 792.6L749.2 794.4L749.9 794.1L750.6 797.0L751.3 799.1L752.0 800.5L752.7 803.6L753.4 801.9L754.1 800.3L754.8 801.8L755.5 802.1L756.2 796.5L756.9 799.8L757.6 799.9L758.3 803.2L759.0 802.5L759.7 806.8L760.4 807.0L761.1 806.5L761.8 805.1L762.5 806.5L763.2 805.2L763.9 804.7L764.6 808.1L765.3 805.4L766.0 810.3L766.7 809.4L767.4 803.6L768.1 807.5L768.8 803.8L769.5 805.4L770.2 804.6L770.9 799.5L771.6 802.4L772.3 801.5L773.0 804.2L773.7 800.5L774.4 805.3L775.1 802.2L775.8 804.7L776.5 804.4L777.2 808.2L777.9 804.0L778.6 805.2L779.3 799.5L780.0 797.6L780.7 795.2L781.4 788.7L782.1 785.0L782.8 783.1L783.5 774.5L784.2 770.9L784.9 770.2L785.6 772.0L786.3 770.4L787.0 771.3L787.7 772.4L788.4 772.1L789.1 770.0L789.8 773.8L790.5 769.1L791.2 772.1L791.9 775.2L792.6 783.3L793.3 783.7L794.0 784.5L794.7 783.4L795.4 786.2L796.1 782.2L796.8 781.1L797.5 784.5L798.2 779.4L798.9 777.2L799.6 773.7L800.3 768.6L801.0 765.3L801.7 764.3L802.4 762.4L803.1 763.0L803.8 764.0L804.5 768.3L805.2 764.5L805.9 762.4L806.6 757.2L807.3 753.7L808.0 752.9L808.7 757.7L809.4 763.6L810.1 766.6L810.8 761.7L811.5 758.4L812.2 747.2L812.9 734.4L813.6 734.9L814.3 730.3L815.0 726.0L815.7 729.5L816.4 727.0L817.1 727.3L817.8 729.1L818.5 730.1L819.2 731.2L819.9 730.9L820.6 724.2L821.3 723.2L822.0 716.6L822.7 697.9L823.4 689.7L824.1 674.9L824.8 662.2L825.5 667.5L826.2 675.5L826.9 681.9L827.6 677.1L828.3 670.9L829.0 664.9L829.7 655.9L830.4 655.2L831.1 652.7L831.8 649.0L832.5 645.9L833.2 635.4L833.9 613.2L834.6 607.3L835.3 599.0L836.0 602.1L836.7 606.9L837.4 587.8L838.1 585.2L838.8 576.9L839.5 569.5L840.2 577.3L840.9 571.7L841.6 561.8L842.3 566.6L843.0 561.0L843.7 555.0L844.4 559.5L845.1 560.8L845.8 570.5L846.5 561.4L847.2 552.0L847.9 546.0L848.6 544.6L849.3 551.9L850.0 564.8L850.7 576.6L851.4 577.5L852.1 566.1L852.8 568.0L853.5 575.2L854.2 575.0L854.9 572.4L855.6 568.8L856.3 587.6L857.0 589.3L857.7 587.8L858.4 605.8L859.1 603.7L859.8 584.8L860.5 588.7L861.2 587.0L861.9 602.6L862.6 611.3L863.3 614.0L864.0 614.2L864.7 621.2L865.4 625.8L866.1 620.5L866.8 623.9L867.5 638.8L868.2 628.8L868.9 632.5L869.6 636.9L870.3 640.8L871.0 645.0L871.7 644.7L872.4 642.0L873.1 649.4L873.8 650.5L874.5 658.2L875.2 652.2L875.9 648.3L876.6 650.5L877.3 661.3L878.0 654.8L878.7 651.6L879.4 661.6L880.1 667.9L880.8 676.5L881.5 670.4L882.2 677.9L882.9 679.5L883.6 674.8L884.3 677.8L885.0 686.4L885.7 687.3L886.4 685.0L887.1 684.0L887.8 688.2L888.5 684.3L889.2 685.5L889.9 683.6L890.6 687.9L891.3 688.3L892.0 697.8L892.7 689.3L893.4 695.6L894.1 696.5L894.8 691.4L895.5 697.3L896.2 685.1L896.9 694.6L897.6 698.2L898.3 687.1L899.0 691.8L899.7 701.1L900.4 696.5L901.1 693.8L901.8 697.1L902.5 697.0L903.2 702.5L903.9 701.9L904.6 699.6L905.3 698.6L906.0 701.5L906.7 707.4L907.4 704.1L908.1 705.8L908.8 703.2L909.5 699.8L910.2 703.7L910.9 710.6L911.6 710.1L912.3 707.8L913.0 706.7L913.7 715.1L914.4 715.0L915.1 716.5L915.8 718.3L916.5 722.1L917.2 723.3L917.9 727.1L918.6 728.2L919.3 730.9L920.0 730.0L920.7 726.7L921.4 729.0L922.1 732.3L922.8 730.3L923.5 734.6L924.2 737.5L924.9 730.3L925.6 727.0L926.3 739.2L927.0 735.1L927.7 738.4L928.4 730.8L929.1 743.4L929.8 740.0L930.5 737.1L931.2 736.8L931.9 739.1L932.6 738.5L933.3 736.7L934.0 732.0L934.7 740.0L935.4 733.5L936.1 732.5L936.8 731.2L937.5 720.7L938.2 730.2L938.9 725.4L939.6 724.1L940.3 724.2L941.0 718.6L941.7 724.5L942.4 719.2L943.1 720.9L943.8 723.6L944.5 730.2L945.2 735.1L945.9 732.3L946.6 731.2L947.3 744.0L948.0 736.5L948.7 742.4L949.4 734.4L950.1 728.7L950.8 725.9L951.5 727.3L952.2 725.9L952.9 718.5L953.6 720.0L954.3 721.8L955.0 709.8L955.7 703.3L956.4 700.9L957.1 696.7L957.8 697.0L958.5 693.8L959.2 688.7L959.9 693.3L960.6 679.6L961.3 685.7L962.0 702.6L962.7 701.5L963.4 700.6L964.1 701.6L964.8 708.0L965.5 704.0L966.2 701.4L966.9 695.3L967.6 699.2L968.3 696.7L969.0 698.2L969.7 699.5L970.4 703.6L971.1 703.9L971.8 711.9L972.5 708.6L973.2 718.8L973.9 732.5L974.6 730.8L975.3 737.3L976.0 736.1L976.7 736.0L977.4 732.9L978.1 723.9L978.8 727.8L979.5 726.8L980.2 721.5L980.9 725.3L981.6 721.6L982.3 719.4L983.0 726.3L983.7 724.8L984.4 721.6L985.1 720.0L985.8 721.1L986.5 721.6L987.2 724.1L987.9 728.1L988.6 729.2L989.3 735.0L990.0 738.2L990.7 740.1L991.4 738.6L992.1 740.8L992.8 746.9L993.5 746.3L994.2 748.8L994.9 741.7L995.6 742.9L996.3 754.2L997.0 755.3L997.7 760.8L998.4 759.2L999.1 758.2L999.8 757.7L1000.5 752.3L1001.2 761.9L1001.9 756.3L1002.6 761.1L1003.3 760.2L1004.0 760.8L1004.7 763.7L1005.4 758.4L1006.1 759.1L1006.8 757.4L1007.5 759.6L1008.2 768.0L1008.9 760.1L1009.6 768.1L1010.3 772.4L1011.0 777.7L1011.7 783.8L1012.4 781.2L1013.1 785.1L1013.8 788.4L1014.5 777.6L1015.2 778.6L1015.9 774.4L1016.6 776.8L1017.3 771.4L1018.0 783.0L1018.7 775.9L1019.4 772.1L1020.1 786.3L1020.8 783.9L1021.5 783.0L1022.2 783.9L1022.9 780.7L1023.6 778.9L1024.3 780.4L1025.0 778.8L1025.7 776.6L1026.4 771.4L1027.1 766.3L1027.8 765.1L1028.5 768.0L1029.2 767.0L1029.9 763.2L1030.6 770.2L1031.3 784.7L1032.0 787.7L1032.7 789.5L1033.4 783.4L1034.1 789.1L1034.8 790.4L1035.5 795.2L1036.2 789.6L1036.9 803.3L1037.6 801.3L1038.3 800.3L1039.0 791.7L1039.7 794.2L1040.4 797.5L1041.1 783.8L1041.8 789.1L1042.5 790.2L1043.2 785.3L1043.9 792.1L1044.6 788.2L1045.3 795.1L1046.0 793.0L1046.7 792.5L1047.4 800.3L1048.1 796.3L1048.8 798.9L1049.5 789.6L1050.2 790.3L1050.9 794.3L1051.6 792.7L1052.3 786.9L1053.0 788.3L1053.7 779.1L1054.4 784.9L1055.1 782.3L1055.8 791.0L1056.5 790.5L1057.2 792.7L1057.9 798.3L1058.6 808.1L1059.3 799.6L1060.0 804.0L1060.7 806.8L1061.4 797.1L1062.1 802.0L1062.8 792.0L1063.5 791.5L1064.2 794.3L1064.9 801.5L1065.6 798.8L1066.3 799.9L1067.0 800.5L1067.7 792.3L1068.4 790.6L1069.1 795.7L1069.8 788.7L1070.5 783.0L1071.2 779.1L1071.9 784.9L1072.6 798.8L1073.3 804.3L1074.0 804.8L1074.7 793.2L1075.4 788.0L1076.1 783.5L1076.8 773.2L1077.5 769.9L1078.2 768.9L1078.9 777.5L1079.6 790.3L1080.3 788.1L1081.0 794.5L1081.7 805.2L1082.4 808.4L1083.1 814.5L1083.8 811.4L1084.5 813.5L1085.2 808.5L1085.9 815.9L1086.6 816.3L1087.3 810.1L1088.0 811.4L1088.7 815.3L1089.4 817.6L1090.1 808.3L1090.8 818.1L1091.5 818.9L1092.2 816.2L1092.9 817.0L1093.6 816.7L1094.3 809.7L1095.0 814.4L1095.7 810.7L1096.4 806.8L1097.1 810.4L1097.8 815.9L1098.5 804.8L1099.2 804.8L1099.9 805.4L1100.6 820.7L1101.3 812.4L1102.0 813.9L1102.7 811.7L1103.4 811.4L1104.1 806.7L1104.8 815.2L1105.5 815.2L1106.2 805.9L1106.9 809.2L1107.6 810.1L1108.3 812.6L1109.0 813.3L1109.7 823.8L1110.4 832.9L1111.1 839.9" fill="none" stroke="#505050" stroke-width="1.8" stroke-linejoin="round"/>
<path d="M738.0 782.3L738.7 785.8L739.4 780.9L740.1 786.8L740.8 791.1L741.5 793.9L742.2 790.6L742.9 788.3L743.6 782.3L744.3 779.0L745.0 774.5L745.7 768.4L746.4 770.4L747.1 778.4L747.8 782.4L748.5 791.5L749.2 794.9L749.9 798.8L750.6 798.4L751.3 804.0L752.0 802.6L752.7 805.7L753.4 806.6L754.1 804.7L754.8 798.9L755.5 796.3L756.2 803.5L756.9 804.5L757.6 811.7L758.3 813.4L759.0 815.0L759.7 814.6L760.4 815.6L761.1 813.4L761.8 815.5L762.5 812.2L763.2 812.5L763.9 811.4L764.6 813.6L765.3 813.2L766.0 814.3L766.7 822.8L767.4 820.1L768.1 820.1L768.8 820.7L769.5 823.0L770.2 818.8L770.9 820.1L771.6 818.5L772.3 815.0L773.0 819.4L773.7 820.0L774.4 817.6L775.1 818.3L775.8 815.5L776.5 815.6L777.2 817.4L777.9 818.6L778.6 815.5L779.3 816.2L780.0 816.7L780.7 814.1L781.4 813.1L782.1 811.4L782.8 802.4L783.5 802.9L784.2 794.0L784.9 798.1L785.6 797.5L786.3 795.7L787.0 794.4L787.7 796.4L788.4 792.5L789.1 788.2L789.8 780.8L790.5 785.3L791.2 788.7L791.9 796.8L792.6 803.3L793.3 813.4L794.0 811.7L794.7 811.9L795.4 813.1L796.1 807.0L796.8 803.6L797.5 804.7L798.2 801.2L798.9 801.3L799.6 795.3L800.3 796.1L801.0 799.7L801.7 803.0L802.4 801.0L803.1 809.0L803.8 803.3L804.5 799.0L805.2 797.2L805.9 796.6L806.6 792.5L807.3 797.6L808.0 801.2L808.7 804.3L809.4 806.6L810.1 812.6L810.8 802.6L811.5 802.5L812.2 804.0L812.9 801.2L813.6 796.9L814.3 797.7L815.0 795.5L815.7 790.0L816.4 795.5L817.1 797.7L817.8 798.8L818.5 796.1L819.2 798.8L819.9 797.2L820.6 799.8L821.3 793.4L822.0 791.4L822.7 785.3L823.4 784.0L824.1 780.9L824.8 779.9L825.5 771.6L826.2 769.2L826.9 772.3L827.6 768.2L828.3 768.5L829.0 766.4L829.7 764.2L830.4 764.0L831.1 761.3L831.8 759.2L832.5 754.2L833.2 758.4L833.9 752.8L834.6 753.2L835.3 749.5L836.0 749.8L836.7 745.1L837.4 743.2L838.1 740.9L838.8 736.8L839.5 735.1L840.2 734.0L840.9 732.0L841.6 730.0L842.3 737.6L843.0 730.0L843.7 731.6L844.4 737.6L845.1 730.7L845.8 732.0L846.5 729.7L847.2 725.5L847.9 720.4L848.6 718.5L849.3 723.6L850.0 726.1L850.7 721.1L851.4 728.8L852.1 729.7L852.8 736.3L853.5 737.4L854.2 733.5L854.9 732.1L855.6 731.0L856.3 732.7L857.0 737.6L857.7 735.9L858.4 738.2L859.1 740.6L859.8 738.5L860.5 739.7L861.2 738.6L861.9 737.2L862.6 734.7L863.3 736.7L864.0 739.0L864.7 739.7L865.4 746.1L866.1 747.5L866.8 745.8L867.5 750.3L868.2 742.8L868.9 748.4L869.6 750.0L870.3 744.3L871.0 744.5L871.7 747.6L872.4 751.0L873.1 750.5L873.8 752.1L874.5 756.0L875.2 755.9L875.9 752.9L876.6 756.4L877.3 757.7L878.0 754.6L878.7 760.5L879.4 758.0L880.1 762.1L880.8 756.2L881.5 757.9L882.2 756.5L882.9 764.0L883.6 763.9L884.3 763.9L885.0 763.4L885.7 761.3L886.4 760.8L887.1 753.3L887.8 758.2L888.5 755.5L889.2 755.4L889.9 752.4L890.6 758.9L891.3 755.2L892.0 750.1L892.7 755.1L893.4 754.0L894.1 752.0L894.8 754.7L895.5 754.1L896.2 750.6L896.9 753.3L897.6 759.6L898.3 759.8L899.0 760.3L899.7 756.9L900.4 759.2L901.1 761.8L901.8 764.2L902.5 759.9L903.2 758.7L903.9 764.3L904.6 760.7L905.3 758.8L906.0 757.2L906.7 756.8L907.4 762.6L908.1 760.2L908.8 755.7L909.5 752.7L910.2 760.5L910.9 761.1L911.6 761.3L912.3 761.4L913.0 754.8L913.7 757.7L914.4 764.3L915.1 763.0L915.8 765.8L916.5 764.7L917.2 765.6L917.9 770.3L918.6 768.8L919.3 771.5L920.0 773.9L920.7 775.4L921.4 779.7L922.1 781.9L922.8 775.6L923.5 780.4L924.2 780.9L924.9 786.6L925.6 782.9L926.3 787.3L927.0 786.2L927.7 784.9L928.4 779.4L929.1 780.7L929.8 777.2L930.5 780.7L931.2 781.4L931.9 773.1L932.6 774.2L933.3 776.9L934.0 776.5L934.7 783.2L935.4 779.1L936.1 780.9L936.8 777.6L937.5 786.2L938.2 782.8L938.9 785.3L939.6 784.0L940.3 767.5L941.0 759.2L941.7 750.3L942.4 745.8L943.1 733.0L943.8 741.7L944.5 747.2L945.2 753.0L945.9 761.0L946.6 764.7L947.3 765.1L948.0 770.9L948.7 773.5L949.4 760.7L950.1 763.6L950.8 759.9L951.5 748.5L952.2 746.9L952.9 742.8L953.6 755.1L954.3 756.0L955.0 759.9L955.7 768.4L956.4 766.3L957.1 758.4L957.8 753.3L958.5 744.7L959.2 735.7L959.9 733.2L960.6 729.6L961.3 728.1L962.0 733.0L962.7 739.3L963.4 751.5L964.1 756.1L964.8 756.3L965.5 748.0L966.2 748.7L966.9 746.7L967.6 751.3L968.3 745.5L969.0 737.5L969.7 744.0L970.4 747.4L971.1 751.7L971.8 744.5L972.5 755.8L973.2 761.7L973.9 764.8L974.6 766.0L975.3 760.4L976.0 763.3L976.7 762.3L977.4 763.7L978.1 762.5L978.8 758.3L979.5 761.0L980.2 757.3L980.9 760.9L981.6 765.5L982.3 769.9L983.0 769.4L983.7 776.9L984.4 774.2L985.1 766.6L985.8 766.6L986.5 760.2L987.2 756.7L987.9 756.0L988.6 771.5L989.3 776.2L990.0 774.4L990.7 776.3L991.4 768.8L992.1 757.6L992.8 753.4L993.5 762.7L994.2 764.4L994.9 772.8L995.6 783.1L996.3 781.7L997.0 783.5L997.7 785.5L998.4 792.4L999.1 797.2L999.8 790.8L1000.5 788.4L1001.2 792.9L1001.9 790.3L1002.6 792.9L1003.3 789.8L1004.0 786.8L1004.7 784.0L1005.4 781.3L1006.1 774.9L1006.8 776.4L1007.5 791.3L1008.2 799.1L1008.9 801.6L1009.6 796.8L1010.3 802.8L1011.0 807.2L1011.7 798.4L1012.4 802.7L1013.1 803.5L1013.8 802.4L1014.5 803.2L1015.2 809.9L1015.9 803.7L1016.6 802.8L1017.3 807.7L1018.0 797.5L1018.7 792.3L1019.4 799.3L1020.1 804.8L1020.8 802.9L1021.5 807.5L1022.2 806.3L1022.9 811.7L1023.6 823.0L1024.3 819.1L1025.0 813.6L1025.7 806.2L1026.4 801.2L1027.1 798.5L1027.8 794.8L1028.5 797.6L1029.2 794.9L1029.9 800.1L1030.6 808.2L1031.3 812.3L1032.0 812.6L1032.7 814.2L1033.4 812.8L1034.1 806.4L1034.8 812.8L1035.5 811.8L1036.2 812.2L1036.9 814.4L1037.6 811.9L1038.3 816.6L1039.0 810.3L1039.7 809.8L1040.4 808.8L1041.1 805.5L1041.8 806.7L1042.5 805.5L1043.2 803.5L1043.9 798.7L1044.6 799.8L1045.3 802.5L1046.0 806.3L1046.7 801.6L1047.4 806.9L1048.1 807.6L1048.8 810.9L1049.5 811.8L1050.2 818.3L1050.9 817.4L1051.6 819.5L1052.3 813.2L1053.0 814.3L1053.7 816.3L1054.4 823.4L1055.1 823.8L1055.8 816.7L1056.5 822.4L1057.2 829.0L1057.9 819.4L1058.6 823.7L1059.3 830.3L1060.0 829.7L1060.7 820.9L1061.4 826.9L1062.1 822.3L1062.8 818.5L1063.5 809.0L1064.2 810.0L1064.9 815.1L1065.6 814.2L1066.3 817.2L1067.0 815.5L1067.7 823.7L1068.4 819.5L1069.1 825.5L1069.8 825.4L1070.5 822.9L1071.2 833.4L1071.9 825.8L1072.6 822.3L1073.3 820.1L1074.0 809.4L1074.7 802.7L1075.4 803.3L1076.1 797.0L1076.8 792.2L1077.5 789.6L1078.2 790.3L1078.9 781.5L1079.6 798.6L1080.3 799.6L1081.0 806.3L1081.7 806.8L1082.4 816.1L1083.1 824.5L1083.8 827.6L1084.5 824.8L1085.2 830.9L1085.9 835.1L1086.6 831.9L1087.3 830.3L1088.0 834.6L1088.7 836.3L1089.4 835.5L1090.1 834.5L1090.8 825.6L1091.5 826.2L1092.2 822.3L1092.9 820.5L1093.6 821.5L1094.3 820.2L1095.0 816.6L1095.7 818.9L1096.4 821.4L1097.1 824.8L1097.8 828.0L1098.5 831.6L1099.2 833.2L1099.9 833.9L1100.6 835.0L1101.3 839.7L1102.0 847.9L1102.7 842.2L1103.4 842.9L1104.1 842.2L1104.8 840.7L1105.5 848.8L1106.2 840.9L1106.9 833.9L1107.6 828.3L1108.3 828.8L1109.0 820.0L1109.7 815.8L1110.4 811.2L1111.1 805.0" fill="none" stroke="#2878e1" stroke-width="1.8" stroke-linejoin="round"/>
<line x1="1011.4" y1="518.8" x2="1056" y2="518.8" stroke="#505050" stroke-width="1.5"/>
<text x="1060.30" y="524.60" font-size="19.5" text-anchor="start" fill="#000" >BVO</text>
<line x1="1011.4" y1="543.1" x2="1056" y2="543.1" stroke="#2878e1" stroke-width="1.8"/>
<text x="1060.30" y="549.10" font-size="19.5" text-anchor="start" fill="#000" >BVO/CMP</text>
<text transform="translate(605.5 555.8) scale(0.83 1)" font-size="57.3">(</text><text x="624.3" y="558.65" font-size="56">d</text><text transform="translate(656.5 555.8) scale(0.83 1)" font-size="57.3">)</text>
<text transform="translate(661.3 682.5) rotate(-90)" font-size="21.5" text-anchor="middle">Intensity (a.u.)</text>
<text x="925.00" y="926.60" font-size="21" text-anchor="middle" fill="#000" >Wavelength (nm)</text>
</svg>
</body></html>
